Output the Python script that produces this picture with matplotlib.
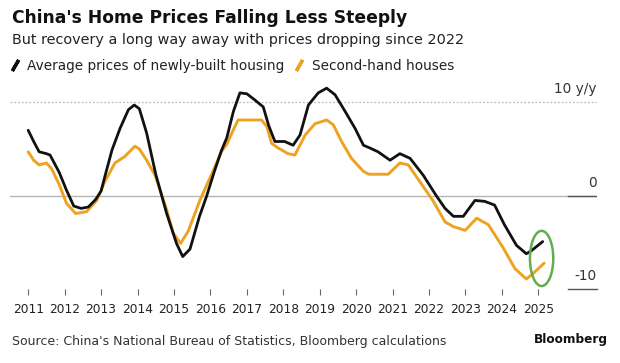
import matplotlib
matplotlib.use('Agg')
import matplotlib.pyplot as plt
from matplotlib.lines import Line2D
from matplotlib.patches import Ellipse

# year-over-year % change
new_years = [2011.0, 2011.15, 2011.3, 2011.5, 2011.6, 2011.85, 2012.05, 2012.25, 2012.45, 2012.65,
             2012.85, 2013.0, 2013.12, 2013.3, 2013.52, 2013.75, 2013.91, 2014.05, 2014.25, 2014.5,
             2014.8, 2015.07, 2015.24, 2015.44, 2015.7, 2015.9, 2016.1, 2016.3, 2016.45, 2016.63,
             2016.81, 2017.0, 2017.2, 2017.45, 2017.6, 2017.77, 2018.04, 2018.27, 2018.46, 2018.69,
             2018.96, 2019.19, 2019.42, 2019.7, 2019.97, 2020.2, 2020.38, 2020.6, 2020.93, 2021.2,
             2021.48, 2021.84, 2022.2, 2022.44, 2022.67, 2022.94, 2023.26, 2023.53, 2023.8, 2024.07,
             2024.4, 2024.67, 2024.8, 2025.12]
new_vals = [7.0, 5.8, 4.7, 4.5, 4.35, 2.5, 0.6, -1.1, -1.35, -1.2,
            -0.4, 0.5, 2.3, 4.9, 7.2, 9.2, 9.7, 9.3, 6.7, 2.3,
            -1.9, -5.1, -6.5, -5.7, -2.2, 0.0, 2.5, 4.8, 6.2, 9.0,
            11.0, 10.9, 10.3, 9.5, 7.5, 5.8, 5.8, 5.4, 6.5, 9.7,
            11.0, 11.5, 10.8, 9.0, 7.2, 5.4, 5.1, 4.7, 3.8, 4.5,
            4.0, 2.2, 0.0, -1.35, -2.2, -2.2, -0.5, -0.6, -1.0, -3.1,
            -5.3, -6.2, -5.9, -4.9]

used_years = [2011.0, 2011.15, 2011.3, 2011.5, 2011.64, 2011.85, 2012.05, 2012.3, 2012.6, 2012.88,
              2013.1, 2013.38, 2013.65, 2013.93, 2014.05, 2014.25, 2014.48, 2014.8, 2014.98, 2015.18,
              2015.39, 2015.71, 2016.08, 2016.3, 2016.45, 2016.6, 2016.76, 2017.4, 2017.55, 2017.68,
              2017.86, 2018.13, 2018.32, 2018.6, 2018.87, 2019.19, 2019.37, 2019.6, 2019.87, 2020.2,
              2020.35, 2020.88, 2021.2, 2021.43, 2021.75, 2022.12, 2022.44, 2022.67, 2022.99, 2023.31,
              2023.63, 2024.04, 2024.36, 2024.67, 2024.86, 2025.16]
used_vals = [4.7, 3.8, 3.3, 3.5, 2.9, 1.2, -0.8, -1.9, -1.7, -0.5,
             1.5, 3.5, 4.2, 5.3, 5.0, 3.8, 2.2, -1.5, -4.0, -5.1,
             -3.8, -0.5, 2.7, 4.7, 5.5, 6.8, 8.1, 8.1, 7.4, 5.6,
             5.1, 4.5, 4.35, 6.5, 7.7, 8.1, 7.6, 5.8, 4.0, 2.6,
             2.3, 2.3, 3.5, 3.3, 1.5, -0.6, -2.8, -3.3, -3.7, -2.4,
             -3.1, -5.6, -7.8, -8.9, -8.3, -7.2]

tick_years = list(range(2011, 2026))
y_labels = [(10, '10 y/y'), (0, '0'), (-10, '-10')]

BLACK = '#111111'
ORANGE = '#eea320'
GREEN = '#62ad4f'

fig = plt.figure(figsize=(6.2, 3.63), dpi=100)
ax = fig.add_axes([10/620, 1-289.3/363, 587/620, (289.3-85)/363])
xmin, xmax = 2010.5, 2026.61
ax.set_xlim(xmin, xmax)
ax.set_ylim(-10, 11.84)

ax.plot(used_years, used_vals, color=ORANGE, lw=2.1, solid_capstyle='round',
        solid_joinstyle='round', zorder=3)
ax.plot(new_years, new_vals, color=BLACK, lw=2.0, solid_capstyle='round',
        solid_joinstyle='round', zorder=4)

ax.axhline(10, color='#bbbbbb', lw=0.9, ls=(0, (1.5, 1.5)), zorder=1)
ax.axhline(0, color='#b5b5b5', lw=1.0, zorder=1)
ax.plot([2025.81, xmax], [0, 0], color='#555555', lw=1.0, zorder=2)
ax.plot([2025.81, xmax], [-10, -10], color='#555555', lw=1.0, zorder=2, clip_on=False)

for v, lab in y_labels:
    ax.annotate(lab, (xmax, v), xytext=(0, 6.5), textcoords='offset points',
                ha='right', va='baseline', fontsize=9.8, color='#333333')

ax.add_patch(Ellipse((2025.09, -6.7), 0.64, 5.9, fill=False, ec=GREEN, lw=1.8, zorder=5))

for s in ax.spines.values():
    s.set_visible(False)
ax.set_yticks([])
ax.set_xticks(tick_years)
ax.set_xticklabels([str(y) for y in tick_years])
ax.tick_params(axis='x', length=4, width=0.8, color='#666666', labelsize=8.8,
               labelcolor='#222222', pad=6)

fig.text(12/620, 1-18/363, "China's Home Prices Falling Less Steeply", fontsize=12.3,
         fontweight='bold', color='#111111', va='center')
fig.text(12/620, 1-40/363, 'But recovery a long way away with prices dropping since 2022',
         fontsize=10.4, color='#222222', va='center')

handles = [Line2D([], [], ls='none', marker=(2, 2, -30), ms=9, mew=2.4, color=BLACK),
           Line2D([], [], ls='none', marker=(2, 2, -30), ms=9, mew=2.4, color=ORANGE)]
fig.legend(handles, ['Average prices of newly-built housing', 'Second-hand houses'],
           loc='center left', bbox_to_anchor=(8/620, 1-66/363), ncol=2, frameon=False,
           fontsize=9.8, handlelength=1.0, handletextpad=0.4, columnspacing=0.6,
           borderpad=0, borderaxespad=0, labelcolor='#222222')

fig.text(12/620, 1-341/363, "Source: China's National Bureau of Statistics, Bloomberg calculations",
         fontsize=9.0, color='#333333', va='center')
fig.text(608/620, 1-340/363, 'Bloomberg', fontsize=8.7, fontweight='bold', color='#111111',
         ha='right', va='center')

fig.savefig('out.png', dpi=100)
